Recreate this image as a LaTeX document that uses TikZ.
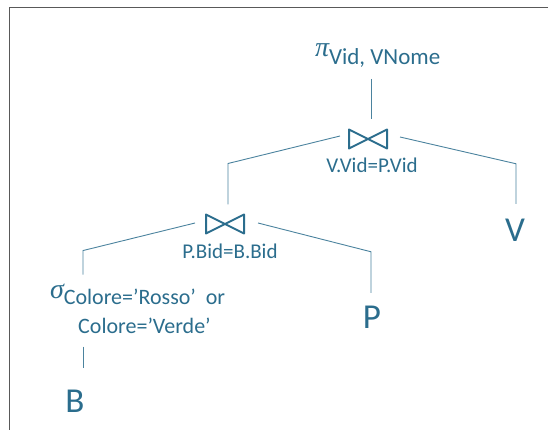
\documentclass[tikz,border=0pt]{standalone}
\usepackage{fontspec}
\setmainfont{Carlito}
\newfontfamily\greekfont{Liberation Serif}
\usepackage{tikz}
\tikzset{
  every node/.style = {
    inner sep = 0pt,
    outer sep = 0pt,
    text = raline
  }
}
\usetikzlibrary{
calc
}
\definecolor{raline}{HTML}{2B6D8D}

\begin{document}
\begin{tikzpicture}[
        x = 1pt,
        y = -1pt,
        relation/.style={
          font = \fontsize{35}{35}\selectfont,
        },
        operator/.style={
          anchor = base west,
          font = \fontsize{28}{28}\selectfont,
        },
        condition/.style={
          font = \fontsize{21}{21}\selectfont,
        },
        joinop/.style={
          minimum width = 40pt,
          minimum height = 21pt,
          path picture={
            \draw [raline, line width = 2pt, line join = round]
            ([shift={(1pt,-1pt)}]path picture bounding box.north west)
            -- ([shift={(-1pt,1pt)}]path picture bounding box.south east)
            -- ([shift={(-1pt,-1pt)}]path picture bounding box.north east)
            -- ([shift={(1pt,1pt)}]path picture bounding box.south west)
            -- cycle;
          },
        },
        edge/.style={
          draw = raline!85,
          line width = 0.9pt,
        },
        frame/.style={
          draw = black!65,
          line width = 1.5pt,
        },
        ]
        \useasboundingbox (0,0) rectangle (549,430);
        \draw [frame] (548,7.5) -- (9.5,7.5) -- (9.5,430);

        \node [operator] (proj) at (315,57)
        {{\greekfont\itshape π}\raisebox{-8pt}{\fontsize{23}{23}\selectfont Vid, VNome}};
        \node [joinop] (j1) at (368,139) {};
        \node [condition] (c1) at (372,165) {V.Vid=P.Vid};
        \node [joinop] (j2) at (225,224) {};
        \node [condition] (c2) at (230,251) {P.Bid=B.Bid};
        \node [relation] (V) at (515,230) {V};
        \node [relation] (P) at (372,317) {P};
        \node [operator] (sel) at (50,299)
        {{\greekfont\itshape σ}\raisebox{-6pt}{\fontsize{22}{29}\selectfont
          \begin{tabular}[t]{@{}c@{}}
            Colore=’Rosso’\hspace{0.45em}or\\
            Colore=’Verde’
          \end{tabular}}};
        \node [relation] (B) at (75,401) {B};

        \draw [edge] ($(j1.north |- proj.south)+(3,11)$) -- ($(j1.north)+(3,-9)$);
        \draw [edge] ($(j1.west)+(-8,-3)$) -- ($(j2.north)+(3,-50)$)
        -- ($(j2.north)+(3,-9)$);
        \draw [edge] ($(j1.east)+(12,-2)$) -- ($(V.north)+(1,-55)$)
        -- ($(V.north)+(1,-15)$);
        \draw [edge] ($(j2.west)+(-10,-1)$) -- ($(sel.north west)+(33,-34)$)
        -- ($(sel.north west)+(33,-10)$);
        \draw [edge] ($(j2.east)+(13,-1)$) -- ($(P.north)+(-1,-54)$)
        -- ($(P.north)+(-1,-13)$);
        \draw [edge] ($(B.north |- sel.south)+(8,4)$) -- ($(B.north)+(8,-22)$);
      \end{tikzpicture}
\end{document}
